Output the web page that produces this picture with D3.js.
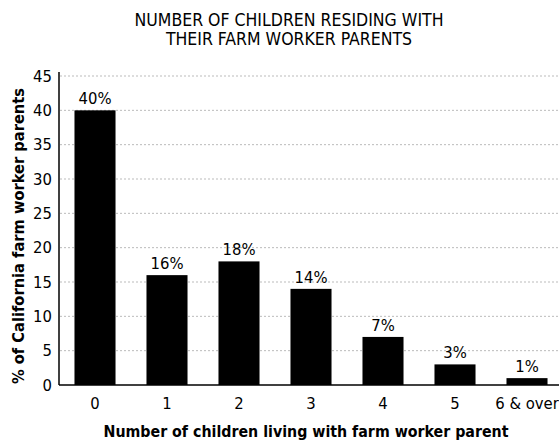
<!DOCTYPE html>
<html><head><meta charset="utf-8">
<script src="https://cdn.jsdelivr.net/npm/d3@7"></script>
<style>body{margin:0;background:#fff}svg{display:block}</style>
</head><body>
<svg id="c" width="559" height="442"></svg>
<script>
const categories = ["0","1","2","3","4","5","6 & over"];
const values = [40,16,18,14,7,3,1];
const valueLabels = ["40%","16%","18%","14%","7%","3%","1%"];
const yTicks = [0,5,10,15,20,25,30,35,40,45];
const titleLines = ["NUMBER OF CHILDREN RESIDING WITH","THEIR FARM WORKER PARENTS"];

const svg = d3.select("#c");
const font = "'DejaVu Sans Condensed','Liberation Sans Narrow',sans-serif";
const x = d3.scaleBand().domain(categories).range([59,563]).paddingInner(0.43).paddingOuter(0.215);
const y = d3.scaleLinear().domain([0,45]).range([385,76]);

// grid
svg.append("g").selectAll("line").data(yTicks.filter(d=>d>0)).join("line")
  .attr("x1",60).attr("x2",559).attr("y1",d=>y(d)).attr("y2",d=>y(d))
  .attr("stroke","#bbb").attr("stroke-width",1).attr("stroke-dasharray","2,2");

// bars
svg.append("g").selectAll("rect").data(values).join("rect")
  .attr("x",(d,i)=>x(categories[i])).attr("width",x.bandwidth())
  .attr("y",d=>y(d)).attr("height",d=>y(0)-y(d)).attr("fill","#000");

// value labels
svg.append("g").selectAll("text").data(values).join("text")
  .attr("x",(d,i)=>x(categories[i])+x.bandwidth()/2).attr("y",d=>y(d)-6)
  .attr("text-anchor","middle").attr("font-family",font).attr("font-size",16.5)
  .text((d,i)=>valueLabels[i]);

// y axis
const ya = svg.append("g").attr("transform","translate(59,0)")
  .call(d3.axisLeft(y).tickValues(yTicks).tickSize(0).tickPadding(7));
ya.select(".domain").attr("stroke","#000").attr("stroke-width",1.5).attr("d","M0,72V385");
ya.selectAll("text").attr("font-family",font).attr("font-size",16.5).attr("fill","#000");

// x axis
const xa = svg.append("g").attr("transform","translate(0,385)")
  .call(d3.axisBottom(x).tickSize(0).tickPadding(12));
xa.select(".domain").attr("stroke","#000").attr("stroke-width",1.5).attr("d","M59,0H559");
xa.selectAll("text").attr("font-family",font).attr("font-size",16.5).attr("fill","#000");

// titles
svg.append("text").attr("text-anchor","middle")
  .attr("font-family",font).attr("font-size",17.5)
  .selectAll("tspan").data(titleLines).join("tspan")
  .attr("x",289).attr("y",(d,i)=>26+i*18.5).text(d=>d);

svg.append("text").attr("x",306).attr("y",437).attr("text-anchor","middle")
  .attr("font-family",font).attr("font-size",15.8).attr("font-weight","bold")
  .text("Number of children living with farm worker parent");

svg.append("text").attr("transform","translate(24,236) rotate(-90)").attr("text-anchor","middle")
  .attr("font-family",font).attr("font-size",16.3).attr("font-weight","bold")
  .text("% of California farm worker parents");
</script>
</body></html>
